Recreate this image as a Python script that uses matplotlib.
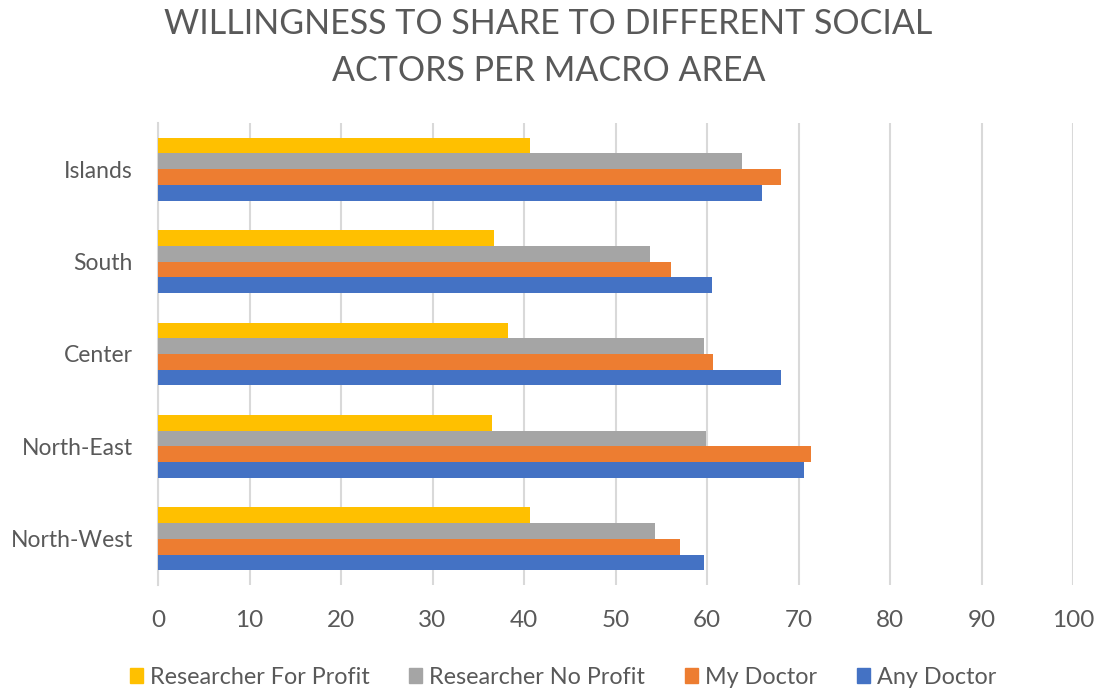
import matplotlib.pyplot as plt
from matplotlib.patches import Patch
import numpy as np

areas = ["North-West", "North-East", "Center", "South", "Islands"]
series = ["Any Doctor", "My Doctor", "Researcher No Profit", "Researcher For Profit"]
any_doctor = [59.7, 70.6, 68.1, 60.5, 66.0]
my_doctor = [57.1, 71.4, 60.7, 56.1, 68.1]
research_no_profit = [54.3, 59.9, 59.7, 53.8, 63.8]
research_for_profit = [40.7, 36.5, 38.2, 36.7, 40.7]
colors = ["#4472c4", "#ed7d31", "#a5a5a5", "#ffc000"]

txt = "#595959"
plt.rcParams['font.family'] = ['Lato', 'DejaVu Sans']

fig = plt.figure(figsize=(10.97, 6.91), dpi=100)
ax = fig.add_axes([158/1097, 1 - 585/691, (1073 - 158)/1097, (585 - 123)/691])

y = np.arange(len(areas))
h = 0.17
vals = [any_doctor, my_doctor, research_no_profit, research_for_profit]
for i in range(4):
    off = (i - 1.5) * h
    ax.barh(y + off, vals[i], height=h, color=colors[i], zorder=3)

ax.set_xlim(0, 100)
ax.set_ylim(-0.5, 4.5)
ax.set_xticks(range(0, 101, 10))
ax.set_yticks(y)
ax.set_yticklabels(areas)
ax.grid(axis='x', color='#d9d9d9', linewidth=1.5, zorder=0)
for s in ['top', 'right', 'bottom']:
    ax.spines[s].set_visible(False)
ax.spines['left'].set_color('#d9d9d9')
ax.spines['left'].set_linewidth(1.5)
ax.tick_params(length=0, labelcolor=txt)
ax.tick_params(axis='x', pad=18, labelsize=17.5)
ax.tick_params(axis='y', pad=18, labelsize=16.5)

fig.suptitle("WILLINGNESS TO SHARE TO DIFFERENT SOCIAL\nACTORS PER MACRO AREA",
             y=0.988, fontsize=24.5, color=txt, linespacing=1.55)

handles = [Patch(color=colors[i]) for i in [3, 2, 1, 0]]
labels = [series[i] for i in [3, 2, 1, 0]]
fig.legend(handles, labels, loc='center', bbox_to_anchor=(0.513, 0.02), ncol=4,
           frameon=False, fontsize=16.8, labelcolor=txt, handlelength=0.56,
           handleheight=0.56, handletextpad=0.3, columnspacing=1.7)

fig.savefig("out.png", dpi=100)
